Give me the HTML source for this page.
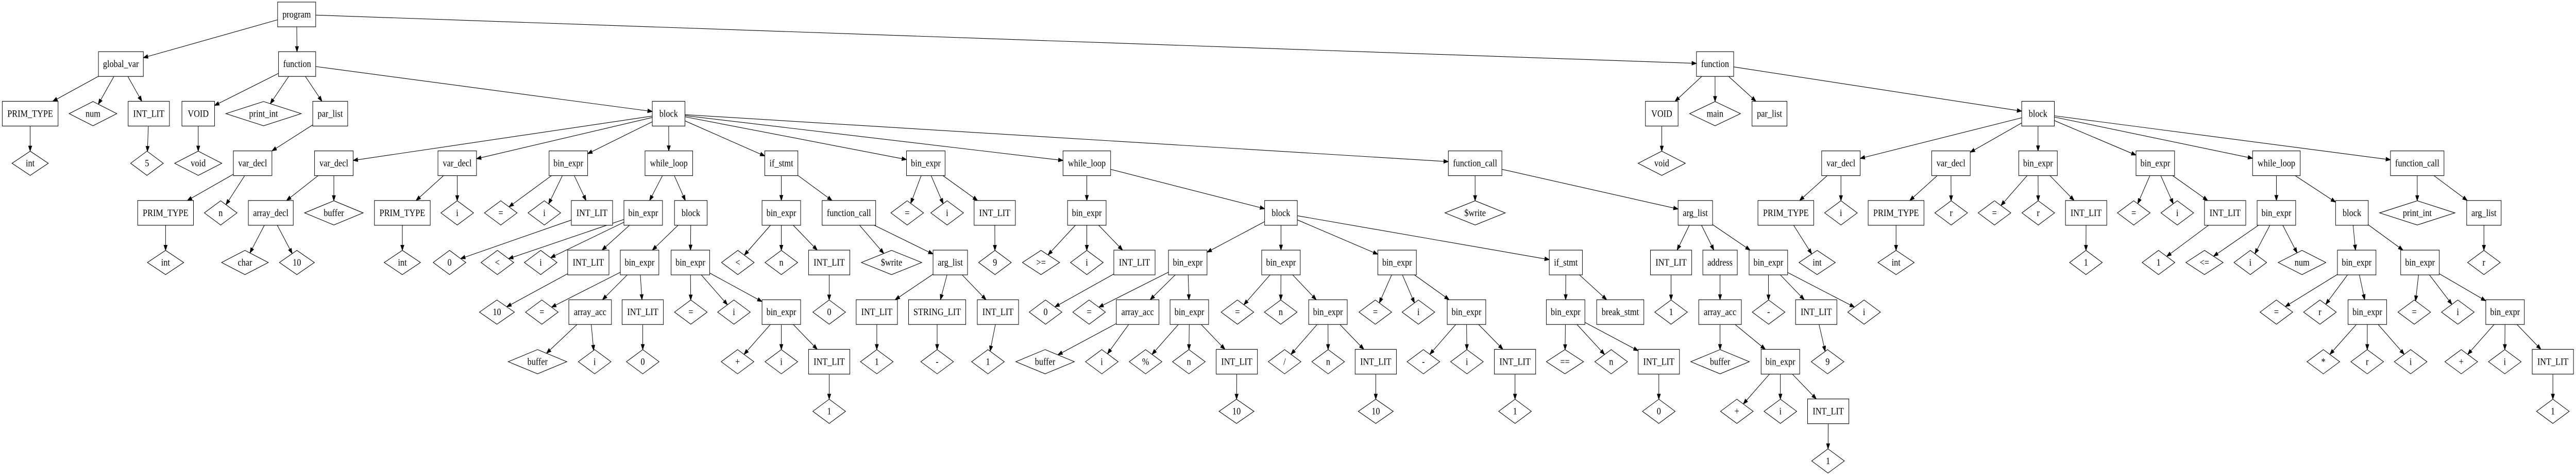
<!DOCTYPE html>
<html><head><meta charset="utf-8">
<meta name="viewport" content="width=5679">
<style>
html,body{margin:0;padding:0;background:#fff;width:100vw;height:100vh;overflow:hidden}
svg{display:block;position:absolute;left:0;top:0}
text{font-family:"Liberation Serif","DejaVu Serif",serif;font-size:18.5px;fill:#000}
</style></head>
<body>
<svg id="s" xmlns="http://www.w3.org/2000/svg" width="100%" height="100%" viewBox="0 0 5679 923" preserveAspectRatio="none"></svg>
<script>
const N=[];
function n(lab,lvl,x,par){N.push({lab:lab,lvl:lvl,x:x,par:par});return N.length-1;}
const BOX=new Set(["program","global_var","function","PRIM_TYPE","INT_LIT","VOID","par_list","block","var_decl","array_decl","bin_expr","while_loop","if_stmt","function_call","arg_list","array_acc","STRING_LIT","break_stmt","address"]);
const BW={program:84,global_var:99,function:82,PRIM_TYPE:123,INT_LIT:91,VOID:72,par_list:77,block:72,var_decl:85,array_decl:99,bin_expr:85,while_loop:105,if_stmt:73,function_call:118,arg_list:76,array_acc:94,STRING_LIT:126,break_stmt:104,address:76};
const DW={num:105,print_int:166,"void":104,"int":80,"char":103,"10":77,buffer:129,"$write":133,">=":82,"==":82,"<=":82,main:112};
let t,u,v,w;
const P=n("program",0,654);
const G=n("global_var",1,266.5,P);
const F=n("function",1,655,P);
const F2=n("function",1,3781,P);
t=n("PRIM_TYPE",2,66.5,G);n("int",3,66.5,t);
n("num",2,205,G);
t=n("INT_LIT",2,328,G);n("5",3,324,t);
t=n("VOID",2,437,F);n("void",3,437,t);
n("print_int",2,581,F);
t=n("par_list",2,728,F);u=n("var_decl",3,557,t);v=n("PRIM_TYPE",4,365,u);n("int",5,365,v);n("n",4,486.5,u);
const B=n("block",2,1474,F);
t=n("var_decl",3,736,B);u=n("array_decl",4,597,t);n("char",5,540,u);n("10",5,654.5,u);n("buffer",4,736,t);
t=n("var_decl",3,1008,B);u=n("PRIM_TYPE",4,887,t);n("int",5,887,u);n("i",4,1008,t);
t=n("bin_expr",3,1253,B);n("=",4,1104,t);n("i",4,1200,t);u=n("INT_LIT",4,1305,t);n("0",5,991,u);
t=n("while_loop",3,1474.5,B);
 u=n("bin_expr",4,1418,t);n("<",5,1096.5,u);n("i",5,1192,u);v=n("INT_LIT",5,1297,u);n("10",6,1095.5,v);
 u=n("block",4,1523,t);
  v=n("bin_expr",5,1410,u);n("=",6,1194.5,v);w=n("array_acc",6,1301,v);n("buffer",7,1185,w);n("i",7,1311,w);w=n("INT_LIT",6,1417,v);n("0",7,1417,w);
  v=n("bin_expr",5,1522,u);n("=",6,1523,v);n("i",6,1618,v);w=n("bin_expr",6,1722.5,v);n("+",7,1626,w);n("i",7,1722.5,w);w=n("INT_LIT",7,1828,w);n("1",8,1828,w);
t=n("if_stmt",3,1722.5,B);
 u=n("bin_expr",4,1722.5,t);n("<",5,1626.6,u);n("n",5,1722.5,u);v=n("INT_LIT",5,1828,u);n("0",6,1828,v);
 u=n("function_call",4,1871.5,t);n("$write",5,1965.5,u);v=n("arg_list",5,2095,u);
  w=n("INT_LIT",6,1933,v);n("1",7,1933,w);w=n("STRING_LIT",6,2066,v);n("-",7,2066,w);w=n("INT_LIT",6,2200,v);n("1",7,2178,w);
t=n("bin_expr",3,2041,B);n("=",4,2000,t);n("i",4,2088,t);u=n("INT_LIT",4,2193,t);n("9",5,2193.5,u);
t=n("while_loop",3,2396,B);
 u=n("bin_expr",4,2396,t);n(">=",5,2295,u);n("i",5,2396,u);v=n("INT_LIT",5,2501,u);n("0",6,2305,v);
 u=n("block",4,2824,t);
  v=n("bin_expr",5,2618.5,u);n("=",6,2401,v);w=n("array_acc",6,2508,v);n("buffer",7,2304,w);n("i",7,2429,w);
   w=n("bin_expr",6,2622,v);n("%",7,2525.5,w);n("n",7,2621,w);w=n("INT_LIT",7,2726.6,w);n("10",8,2726,w);
  v=n("bin_expr",5,2824,u);n("=",6,2728,v);n("n",6,2823.5,v);w=n("bin_expr",6,2927.6,v);n("/",7,2832,w);n("n",7,2928,w);w=n("INT_LIT",7,3033,w);n("10",8,3033,w);
  v=n("bin_expr",5,3080,u);n("=",6,3032,v);n("i",6,3127,v);w=n("bin_expr",6,3233,v);n("-",7,3138,w);n("i",7,3234,w);w=n("INT_LIT",7,3340,w);n("1",8,3340,w);
  v=n("if_stmt",5,3452,u);w=n("bin_expr",6,3451.5,v);n("==",7,3450,w);n("n",7,3552,w);w=n("INT_LIT",7,3657,w);n("0",8,3657,w);n("break_stmt",6,3572,v);
t=n("function_call",3,3252,B);n("$write",4,3252,t);
 u=n("arg_list",4,3737.5,t);
  v=n("INT_LIT",5,3684,u);n("1",6,3684,v);
  v=n("address",5,3792,u);v=n("array_acc",6,3792,v);n("buffer",7,3792,v);w=n("bin_expr",7,3925,v);n("+",8,3829,w);n("i",8,3925,w);w=n("INT_LIT",8,4030.5,w);n("1",9,4030,w);
  v=n("bin_expr",5,3898.5,u);n("-",6,3899,v);w=n("INT_LIT",6,4004,v);n("9",7,4029,w);n("i",6,4109.5,v);
t=n("VOID",2,3663.5,F2);n("void",3,3663.5,t);
n("main",2,3781,F2);n("par_list",2,3901,F2);
const E=n("block",2,4493,F2);
t=n("var_decl",3,4058.5,E);u=n("PRIM_TYPE",4,3937,t);n("int",5,4006,u);n("i",4,4058.5,t);
t=n("var_decl",3,4301,E);u=n("PRIM_TYPE",4,4180,t);n("int",5,4180,u);n("r",4,4301.5,t);
t=n("bin_expr",3,4493,E);n("=",4,4397,t);n("r",4,4493.5,t);u=n("INT_LIT",4,4599,t);n("1",5,4598.6,u);
t=n("bin_expr",3,4751.5,E);n("=",4,4704,t);n("i",4,4800,t);u=n("INT_LIT",4,4905.5,t);n("1",5,4758.6,u);
t=n("while_loop",3,5018.5,E);
 u=n("bin_expr",4,5018.5,t);n("<=",5,4860,u);n("i",5,4961,u);n("num",5,5075,u);
 u=n("block",4,5185,t);
  v=n("bin_expr",5,5195.5,u);n("=",6,5018.5,v);n("r",6,5114.5,v);w=n("bin_expr",6,5219,v);n("*",7,5122,w);n("r",7,5218.7,w);n("i",7,5314.5,w);
  v=n("bin_expr",5,5335,u);n("=",6,5322.5,v);n("i",6,5418.5,v);w=n("bin_expr",6,5522.6,v);n("+",7,5426,w);n("i",7,5522,w);w=n("INT_LIT",7,5628,w);n("1",8,5628,w);
t=n("function_call",3,5329,E);n("print_int",4,5329,t);u=n("arg_list",4,5476,t);n("r",5,5476,u);

const NS="http://www.w3.org/2000/svg";
const svg=document.getElementById("s");
function el(tag,attrs,txt){const e=document.createElementNS(NS,tag);for(const k in attrs)e.setAttribute(k,attrs[k]);if(txt!==undefined)e.textContent=txt;svg.appendChild(e);return e;}
N.forEach(o=>{o.y=28+96.2*o.lvl;o.box=BOX.has(o.lab);o.w=o.box?(BW[o.lab]||80):(DW[o.lab]||72);o.h=o.box?48:47;});
function clip(o,dx,dy){const hw=o.w/2,hh=o.h/2;const ax=Math.abs(dx),ay=Math.abs(dy);let s;
 if(o.box){s=Math.min(ax>0?hw/ax:1e9,ay>0?hh/ay:1e9);}else{s=1/((ax/hw)+(ay/hh));}
 return [o.x+dx*s,o.y+dy*s];}
N.forEach(o=>{if(o.par===undefined)return;const p=N[o.par];
 const dx=o.x-p.x,dy=o.y-p.y;const a=clip(p,dx,dy);const b=clip(o,-dx,-dy);
 const L=Math.hypot(b[0]-a[0],b[1]-a[1]);const ux=(b[0]-a[0])/L,uy=(b[1]-a[1])/L;
 const al=10,aw=3.6;const bx=b[0]-ux*al,by=b[1]-uy*al;
 el("line",{x1:a[0].toFixed(1),y1:a[1].toFixed(1),x2:bx.toFixed(1),y2:by.toFixed(1),stroke:"#000","stroke-width":"1.1"});
 el("polygon",{points:[b[0],b[1],bx-uy*aw,by+ux*aw,bx+uy*aw,by-ux*aw].map(z=>z.toFixed(1)).join(" "),fill:"#000",stroke:"#000","stroke-width":"1"});
});
N.forEach(o=>{
 if(o.box){el("rect",{x:(o.x-o.w/2).toFixed(1),y:(o.y-o.h/2).toFixed(1),width:o.w,height:o.h,fill:"#fff",stroke:"#000","stroke-width":"1.1"});}
 else{const hw=o.w/2,hh=o.h/2;el("polygon",{points:[o.x,o.y-hh,o.x+hw,o.y,o.x,o.y+hh,o.x-hw,o.y].map(z=>z.toFixed(1)).join(" "),fill:"#fff",stroke:"#000","stroke-width":"1.1"});}
 el("text",{x:o.x.toFixed(1),y:(o.y+6).toFixed(1),"text-anchor":"middle"},o.lab);
});
</script>
</body></html>
